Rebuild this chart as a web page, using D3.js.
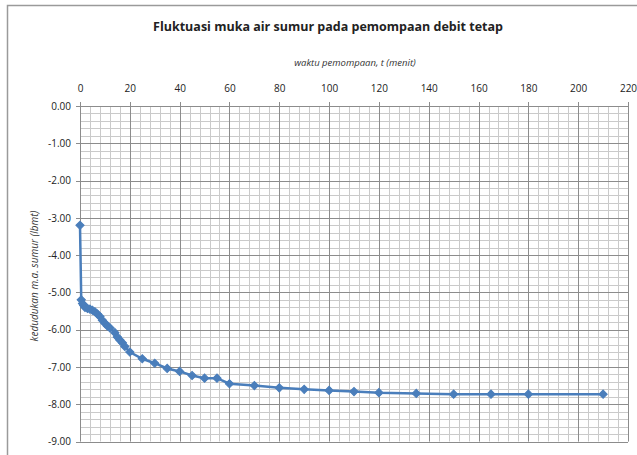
<!DOCTYPE html>
<html lang="id">
<head>
    <meta charset="UTF-8">
    <title>Fluktuasi muka air sumur</title>
    <script src="https://d3js.org/d3.v7.min.js"></script>
    <style>
        body { margin: 0; background: #fff; }
        text { font-family: "Open Sans", "Noto Sans", sans-serif; fill: #222; }
    </style>
</head>
<body>
<script>

    var width = 637,
        height = 455;

    // waktu pemompaan (menit) dan kedudukan muka air (m)
    var waktu = [0, 0.5, 1, 1.5, 2, 3, 4, 5, 6, 7, 8, 9, 10, 11, 12, 14, 15, 16, 17, 18, 20,
        25, 30, 35, 40, 45, 50, 55, 60, 70, 80, 90, 100, 110, 120, 135, 150, 165, 180, 210];
    var muka = [-3.2, -5.2, -5.3, -5.35, -5.4, -5.43, -5.45, -5.48, -5.52, -5.58, -5.65, -5.75, -5.83, -5.9, -5.95,
        -6.08, -6.2, -6.28, -6.35, -6.45, -6.6,
        -6.78, -6.9, -7.04, -7.12, -7.23, -7.3, -7.3, -7.45, -7.5, -7.56, -7.6, -7.63, -7.66, -7.69,
        -7.71, -7.73, -7.73, -7.73, -7.73];

    var xTicks = d3.range(0, 221, 20);
    var yTicks = d3.range(0, -9.01, -1);

    var svg = d3.select("body").append("svg")
        .attr("width", width)
        .attr("height", height);

    // chart frame
    svg.append("rect")
        .attr("x", 7.5).attr("y", 5.5)
        .attr("width", 640).attr("height", 460)
        .attr("fill", "#fff")
        .attr("stroke", "#9a9a9a")
        .attr("stroke-width", 1.5);

    var x = d3.scaleLinear().domain([0, 220]).range([80, 628]);
    var y = d3.scaleLinear().domain([0, -9]).range([106, 441.5]);

    var g = svg.append("g");

    // minor grid
    g.selectAll(".vminor")
        .data(d3.range(0, 221, 4))
        .enter().append("line")
        .attr("x1", function(d) { return Math.round(x(d)) + 0.5; })
        .attr("x2", function(d) { return Math.round(x(d)) + 0.5; })
        .attr("y1", y(0)).attr("y2", y(-9))
        .attr("stroke", "#cacaca");

    g.selectAll(".hminor")
        .data(d3.range(0, 46).map(function(i) { return -i * 0.2; }))
        .enter().append("line")
        .attr("y1", function(d) { return Math.round(y(d)) + 0.5; })
        .attr("y2", function(d) { return Math.round(y(d)) + 0.5; })
        .attr("x1", x(0)).attr("x2", x(220))
        .attr("stroke", "#cacaca");

    // major grid
    g.selectAll(".vmajor")
        .data(xTicks)
        .enter().append("line")
        .attr("x1", function(d) { return Math.round(x(d)) + 0.5; })
        .attr("x2", function(d) { return Math.round(x(d)) + 0.5; })
        .attr("y1", y(0) - 4).attr("y2", y(-9))
        .attr("stroke", "#8c8c8c");

    g.selectAll(".hmajor")
        .data(yTicks)
        .enter().append("line")
        .attr("y1", function(d) { return Math.round(y(d)) + 0.5; })
        .attr("y2", function(d) { return Math.round(y(d)) + 0.5; })
        .attr("x1", x(0) - 4).attr("x2", x(220))
        .attr("stroke", "#8c8c8c");

    // axes (labels only, Excel style)
    var xAxis = svg.append("g")
        .attr("transform", "translate(0," + (y(0) - 7) + ")")
        .call(d3.axisTop(x).tickValues(xTicks).tickSize(0).tickPadding(7));
    xAxis.select(".domain").remove();
    xAxis.selectAll("text").style("font-size", "10px").style("fill", "#222");

    var yAxis = svg.append("g")
        .attr("transform", "translate(" + (x(0) - 7) + ",0)")
        .call(d3.axisLeft(y).tickValues(yTicks).tickSize(0).tickPadding(2)
            .tickFormat(function(d) { return d3.format(".2f")(d).replace("−", "-"); }));
    yAxis.select(".domain").remove();
    yAxis.selectAll("text").style("font-size", "10px").style("fill", "#222");

    // series
    var line = d3.line()
        .x(function(d, i) { return x(waktu[i]); })
        .y(function(d) { return y(d); });

    svg.append("path")
        .datum(muka)
        .attr("d", line)
        .attr("fill", "none")
        .attr("stroke", "#4a7ebb")
        .attr("stroke-width", 2.5);

    // Excel diamond = square turned 45 degrees
    svg.selectAll(".pt")
        .data(muka)
        .enter().append("path")
        .attr("class", "pt")
        .attr("d", d3.symbol().type(d3.symbolSquare).size(34))
        .attr("transform", function(d, i) {
            return "translate(" + x(waktu[i]) + "," + y(d) + ") rotate(45)";
        })
        .attr("fill", "#4a7ebb")
        .attr("stroke", "#4a7ebb");

    // titles
    svg.append("text")
        .attr("x", 328).attr("y", 31)
        .attr("text-anchor", "middle")
        .style("font-size", "12.5px")
        .style("font-weight", "bold")
        .text("Fluktuasi muka air sumur pada pemompaan debit tetap");

    svg.append("text")
        .attr("x", 355).attr("y", 66)
        .attr("text-anchor", "middle")
        .style("font-size", "9.5px")
        .style("font-style", "italic")
        .style("fill", "#333")
        .text("waktu pemompaan, t (menit)");

    svg.append("text")
        .attr("transform", "translate(38,276) rotate(-90)")
        .attr("text-anchor", "middle")
        .style("font-size", "10px")
        .style("font-style", "italic")
        .style("fill", "#333")
        .text("kedudukan m.a. sumur (lbmt)");

</script>
</body>
</html>
